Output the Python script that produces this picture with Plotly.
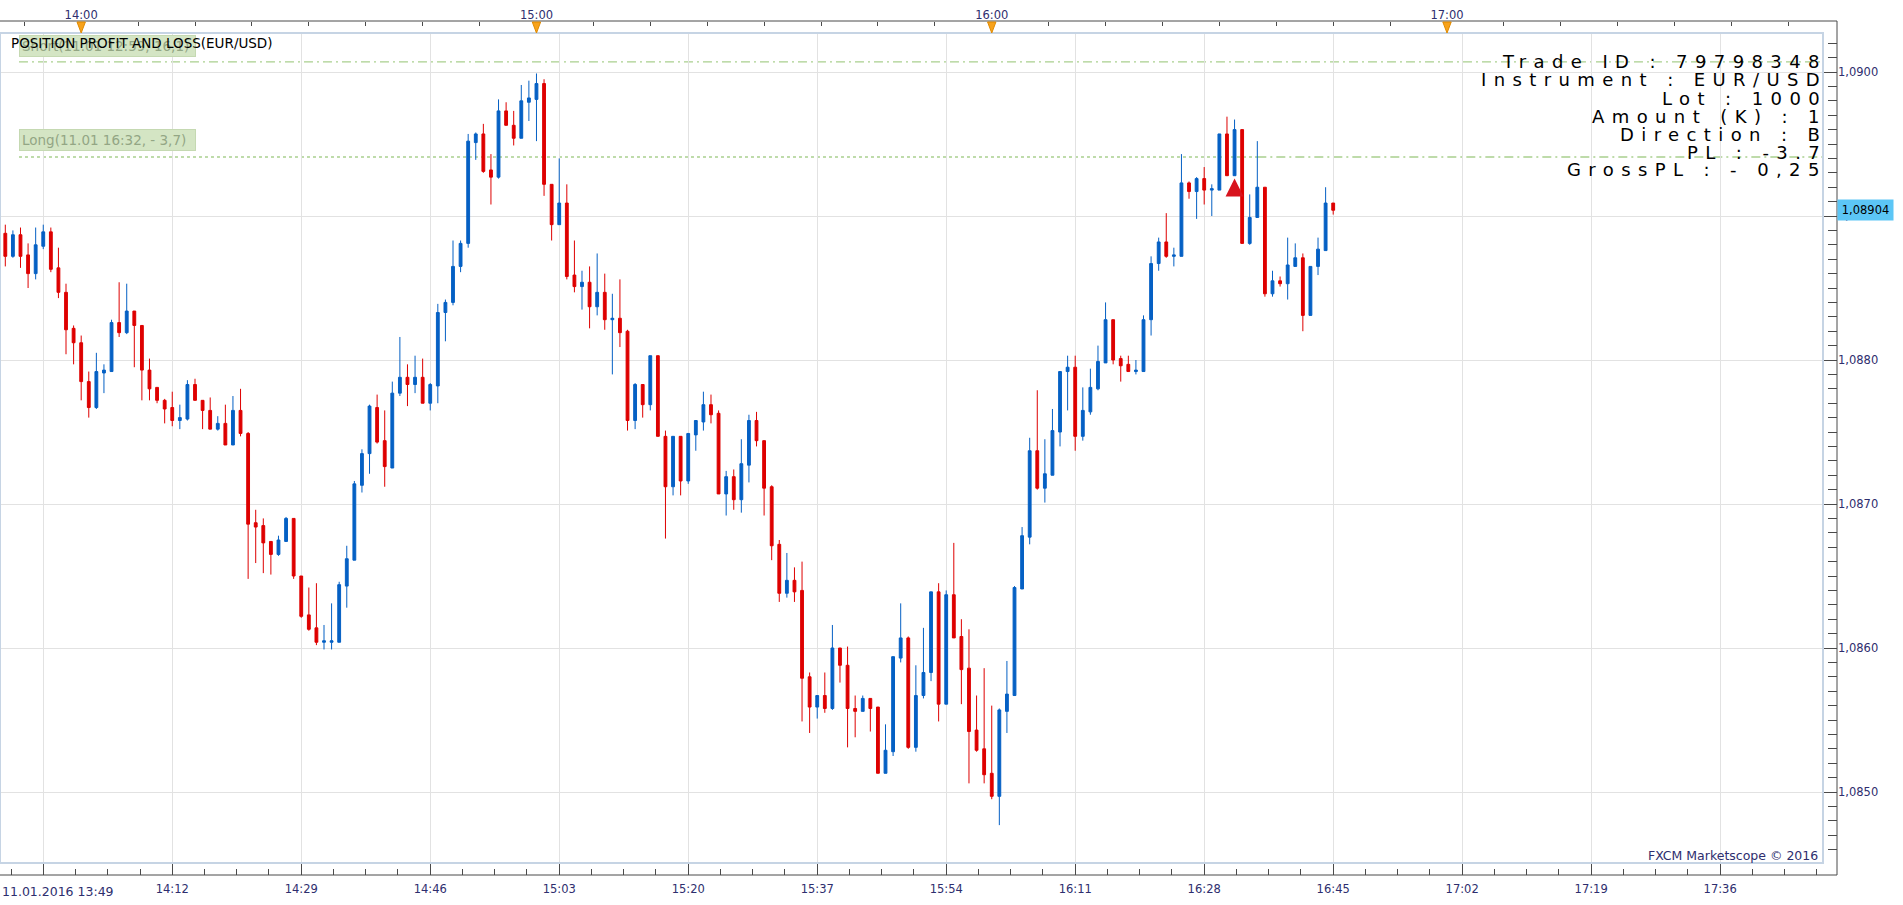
import plotly.graph_objects as go

# ---------------- data (1-minute EUR/USD bars, x = minutes after 14:00) ----------------
bar_minute = list(range(-11, 166))

opens = [
    1.08906, 1.08888, 1.08872, 1.08887, 1.08873, 1.08860, 1.08879, 1.08889, 1.08864, 1.08847,
    1.08822, 1.08812, 1.08785, 1.08767, 1.08791, 1.08792, 1.08826, 1.08819, 1.08834, 1.08824,
    1.08793, 1.08781, 1.08772, 1.08767, 1.08758, 1.08759, 1.08783, 1.08772, 1.08765, 1.08752,
    1.08756, 1.08741, 1.08765, 1.08749, 1.08687, 1.08685, 1.08674, 1.08665, 1.08674, 1.08690,
    1.08650, 1.08623, 1.08614, 1.08604, 1.08604, 1.08604, 1.08643, 1.08661, 1.08713, 1.08735,
    1.08767, 1.08744, 1.08725, 1.08777, 1.08788, 1.08783, 1.08788, 1.08770, 1.08782, 1.08833,
    1.08840, 1.08865, 1.08881, 1.08951, 1.08957, 1.08932, 1.08927, 1.08973, 1.08963, 1.08954,
    1.08979, 1.08981, 1.08992, 1.08922, 1.08894, 1.08909, 1.08859, 1.08851, 1.08854, 1.08837,
    1.08847, 1.08828, 1.08829, 1.08820, 1.08758, 1.08783, 1.08769, 1.08803, 1.08747, 1.08712,
    1.08747, 1.08716, 1.08748, 1.08757, 1.08769, 1.08763, 1.08707, 1.08719, 1.08703, 1.08727,
    1.08758, 1.08744, 1.08712, 1.08672, 1.08638, 1.08647, 1.08640, 1.08580, 1.08559, 1.08567,
    1.08558, 1.08600, 1.08588, 1.08558, 1.08556, 1.08565, 1.08559, 1.08513, 1.08528, 1.08593,
    1.08607, 1.08531, 1.08567, 1.08583, 1.08639, 1.08561, 1.08637, 1.08608, 1.08586, 1.08543,
    1.08530, 1.08513, 1.08497, 1.08556, 1.08567, 1.08641, 1.08677, 1.08737, 1.08711, 1.08720,
    1.08750, 1.08792, 1.08795, 1.08747, 1.08764, 1.08780, 1.08798, 1.08828, 1.08801, 1.08797,
    1.08792, 1.08792, 1.08828, 1.08867, 1.08882, 1.08872, 1.08872, 1.08923, 1.08917, 1.08926,
    1.08918, 1.08918, 1.08957, 1.08928, 1.08960, 1.08881, 1.08899, 1.08920, 1.08846, 1.08855,
    1.08853, 1.08865, 1.08871, 1.08831, 1.08865, 1.08876, 1.08909,
]
highs = [
    1.08911, 1.08894, 1.08890, 1.08892, 1.08881, 1.08892, 1.08894, 1.08892, 1.08878, 1.08853,
    1.08824, 1.08817, 1.08792, 1.08805, 1.08797, 1.08828, 1.08854, 1.08853, 1.08834, 1.08824,
    1.08801, 1.08781, 1.08773, 1.08778, 1.08769, 1.08786, 1.08787, 1.08772, 1.08774, 1.08761,
    1.08769, 1.08775, 1.08780, 1.08750, 1.08696, 1.08690, 1.08674, 1.08678, 1.08691, 1.08690,
    1.08650, 1.08642, 1.08645, 1.08616, 1.08631, 1.08646, 1.08671, 1.08716, 1.08738, 1.08769,
    1.08776, 1.08765, 1.08785, 1.08816, 1.08797, 1.08803, 1.08801, 1.08784, 1.08839, 1.08842,
    1.08883, 1.08883, 1.08957, 1.08958, 1.08964, 1.08943, 1.08981, 1.08979, 1.08973, 1.08991,
    1.08994, 1.08999, 1.08995, 1.08922, 1.08940, 1.08922, 1.08883, 1.08862, 1.08865, 1.08874,
    1.08860, 1.08846, 1.08856, 1.08821, 1.08784, 1.08783, 1.08803, 1.08803, 1.08751, 1.08747,
    1.08747, 1.08749, 1.08758, 1.08778, 1.08776, 1.08765, 1.08723, 1.08724, 1.08745, 1.08762,
    1.08764, 1.08744, 1.08713, 1.08675, 1.08666, 1.08656, 1.08660, 1.08583, 1.08567, 1.08583,
    1.08616, 1.08600, 1.08601, 1.08567, 1.08567, 1.08565, 1.08559, 1.08547, 1.08594, 1.08631,
    1.08608, 1.08588, 1.08614, 1.08639, 1.08645, 1.08640, 1.08673, 1.08620, 1.08613, 1.08567,
    1.08586, 1.08560, 1.08558, 1.08591, 1.08643, 1.08684, 1.08746, 1.08779, 1.08745, 1.08766,
    1.08792, 1.08803, 1.08803, 1.08781, 1.08794, 1.08810, 1.08840, 1.08828, 1.08803, 1.08803,
    1.08800, 1.08831, 1.08872, 1.08885, 1.08902, 1.08878, 1.08943, 1.08924, 1.08927, 1.08934,
    1.08922, 1.08957, 1.08969, 1.08967, 1.08960, 1.08915, 1.08952, 1.08920, 1.08862, 1.08858,
    1.08885, 1.08881, 1.08874, 1.08865, 1.08885, 1.08920, 1.08909,
]
lows = [
    1.08883, 1.08865, 1.08871, 1.08864, 1.08850, 1.08856, 1.08877, 1.08861, 1.08843, 1.08804,
    1.08797, 1.08772, 1.08760, 1.08766, 1.08777, 1.08792, 1.08816, 1.08818, 1.08795, 1.08772,
    1.08772, 1.08770, 1.08756, 1.08754, 1.08752, 1.08758, 1.08772, 1.08752, 1.08752, 1.08751,
    1.08741, 1.08741, 1.08747, 1.08648, 1.08659, 1.08652, 1.08651, 1.08664, 1.08674, 1.08648,
    1.08621, 1.08612, 1.08602, 1.08599, 1.08599, 1.08604, 1.08628, 1.08661, 1.08708, 1.08721,
    1.08742, 1.08712, 1.08725, 1.08775, 1.08768, 1.08777, 1.08770, 1.08765, 1.08770, 1.08813,
    1.08838, 1.08861, 1.08878, 1.08939, 1.08930, 1.08908, 1.08926, 1.08963, 1.08949, 1.08954,
    1.08966, 1.08952, 1.08914, 1.08883, 1.08894, 1.08856, 1.08847, 1.08835, 1.08822, 1.08831,
    1.08821, 1.08790, 1.08809, 1.08751, 1.08752, 1.08760, 1.08765, 1.08747, 1.08676, 1.08706,
    1.08706, 1.08714, 1.08737, 1.08751, 1.08756, 1.08707, 1.08692, 1.08696, 1.08694, 1.08715,
    1.08740, 1.08692, 1.08661, 1.08632, 1.08635, 1.08632, 1.08549, 1.08541, 1.08551, 1.08555,
    1.08557, 1.08576, 1.08531, 1.08538, 1.08556, 1.08542, 1.08513, 1.08513, 1.08525, 1.08590,
    1.08530, 1.08528, 1.08565, 1.08577, 1.08549, 1.08561, 1.08607, 1.08561, 1.08506, 1.08528,
    1.08506, 1.08495, 1.08477, 1.08541, 1.08567, 1.08641, 1.08672, 1.08710, 1.08701, 1.08720,
    1.08740, 1.08765, 1.08737, 1.08744, 1.08762, 1.08779, 1.08798, 1.08797, 1.08785, 1.08792,
    1.08790, 1.08792, 1.08817, 1.08862, 1.08871, 1.08865, 1.08872, 1.08912, 1.08898, 1.08908,
    1.08900, 1.08918, 1.08928, 1.08928, 1.08881, 1.08880, 1.08899, 1.08844, 1.08844, 1.08851,
    1.08842, 1.08865, 1.08820, 1.08831, 1.08859, 1.08876, 1.08901,
]
closes = [
    1.08888, 1.08872, 1.08887, 1.08872, 1.08860, 1.08880, 1.08889, 1.08863, 1.08847, 1.08821,
    1.08812, 1.08785, 1.08767, 1.08792, 1.08793, 1.08826, 1.08819, 1.08834, 1.08824, 1.08793,
    1.08780, 1.08772, 1.08766, 1.08758, 1.08760, 1.08783, 1.08772, 1.08765, 1.08752, 1.08756,
    1.08741, 1.08765, 1.08749, 1.08686, 1.08684, 1.08673, 1.08665, 1.08675, 1.08690, 1.08650,
    1.08622, 1.08613, 1.08604, 1.08605, 1.08605, 1.08644, 1.08662, 1.08714, 1.08735, 1.08768,
    1.08743, 1.08726, 1.08777, 1.08788, 1.08783, 1.08788, 1.08770, 1.08783, 1.08833, 1.08840,
    1.08865, 1.08881, 1.08952, 1.08957, 1.08931, 1.08927, 1.08973, 1.08963, 1.08954, 1.08980,
    1.08982, 1.08992, 1.08922, 1.08894, 1.08909, 1.08858, 1.08851, 1.08854, 1.08837, 1.08847,
    1.08828, 1.08829, 1.08819, 1.08758, 1.08783, 1.08769, 1.08803, 1.08747, 1.08712, 1.08747,
    1.08716, 1.08749, 1.08758, 1.08769, 1.08762, 1.08707, 1.08719, 1.08703, 1.08728, 1.08758,
    1.08744, 1.08711, 1.08671, 1.08638, 1.08647, 1.08639, 1.08579, 1.08559, 1.08567, 1.08558,
    1.08600, 1.08588, 1.08558, 1.08556, 1.08565, 1.08558, 1.08513, 1.08529, 1.08594, 1.08607,
    1.08531, 1.08567, 1.08583, 1.08639, 1.08561, 1.08637, 1.08607, 1.08585, 1.08542, 1.08529,
    1.08512, 1.08497, 1.08557, 1.08568, 1.08642, 1.08678, 1.08737, 1.08711, 1.08721, 1.08751,
    1.08792, 1.08795, 1.08747, 1.08765, 1.08781, 1.08799, 1.08828, 1.08800, 1.08796, 1.08792,
    1.08793, 1.08828, 1.08867, 1.08882, 1.08872, 1.08873, 1.08923, 1.08917, 1.08926, 1.08918,
    1.08919, 1.08957, 1.08928, 1.08960, 1.08881, 1.08899, 1.08920, 1.08846, 1.08855, 1.08853,
    1.08866, 1.08871, 1.08831, 1.08865, 1.08877, 1.08909, 1.08904,
]
assert len(opens) == len(highs) == len(lows) == len(closes) == len(bar_minute)

bottom_tick_minutes = [-5, 12, 29, 46, 63, 80, 97, 114, 131, 148, 165, 182, 199, 216]
bottom_tick_labels = ["11.01.2016 13:49", "14:12", "14:29", "14:46", "15:03", "15:20", "15:37",
                      "15:54", "16:11", "16:28", "16:45", "17:02", "17:19", "17:36"]
top_tick_minutes = [0, 60, 120, 180]
top_tick_labels = ["14:00", "15:00", "16:00", "17:00"]

short_line_price = 1.09007
short_label = "Short(11.01 12:59, 16,1)"
long_line_price = 1.08941
long_label = "Long(11.01 16:32, - 3,7)"
long_line_switch_minute = 155
entry_minute = 152
entry_marker_price = 1.08926

info_lines = ["Trade ID : 79798348", "Instrument : EUR/USD", "Lot : 1000", "Amount (K) : 1",
              "Direction : B", "PL : -3.7", "GrossPL : - 0,25"]
panel_title = "POSITION PROFIT AND LOSS(EUR/USD)"
copyright_text = "FXCM Marketscope © 2016"

# ---------------- styling / layout geometry ----------------
BLUE = "#0560c4"
RED = "#de0000"
NAVY = "#2e2e6e"
GRID = "#e2e2e2"
GREEN_LINE = "#a9d08e"
FONT = "DejaVu Sans"

W, H = 1903, 905
PAPER_LEFT, PAPER_TOP, PAPER_RIGHT, PAPER_BOTTOM = 0, 21, 1837, 875
PLOT_RIGHT, PLOT_TOP, PLOT_BOTTOM = 1823, 33, 863
PW = PAPER_RIGHT - PAPER_LEFT
PH = PAPER_BOTTOM - PAPER_TOP


def px_x(px):
    return (px - PAPER_LEFT) / PW


def px_y(py):
    return (PAPER_BOTTOM - py) / PH


x_range = [-10.70, 229.55]
y_range = [1.084507, 1.090271]
line_start_minute = -8.2

fig = go.Figure()

fig.add_trace(go.Candlestick(
    x=bar_minute, open=opens, high=highs, low=lows, close=closes,
    increasing=dict(line=dict(color=BLUE, width=1), fillcolor=BLUE),
    decreasing=dict(line=dict(color=RED, width=1), fillcolor=RED),
    whiskerwidth=0, showlegend=False, hoverinfo="skip",
    xaxis="x", yaxis="y",
))
# dummy trace so the top time axis is rendered
fig.add_trace(go.Scatter(x=top_tick_minutes, y=[None] * len(top_tick_minutes),
                         xaxis="x2", yaxis="y", showlegend=False, hoverinfo="skip",
                         mode="markers"))

shapes = []
# trade level lines
shapes.append(dict(type="line", xref="x", yref="y", x0=line_start_minute, x1=x_range[1],
                   y0=short_line_price, y1=short_line_price,
                   line=dict(color=GREEN_LINE, width=1.3, dash="9px,4px,2px,4px"), layer="below"))
shapes.append(dict(type="line", xref="x", yref="y", x0=line_start_minute, x1=long_line_switch_minute,
                   y0=long_line_price, y1=long_line_price,
                   line=dict(color=GREEN_LINE, width=1.3, dash="3px,3px"), layer="below"))
shapes.append(dict(type="line", xref="x", yref="y", x0=long_line_switch_minute, x1=x_range[1],
                   y0=long_line_price, y1=long_line_price,
                   line=dict(color=GREEN_LINE, width=1.3, dash="9px,4px,2px,4px"), layer="below"))
# inner plot border
shapes.append(dict(type="rect", xref="paper", yref="paper", x0=px_x(0), x1=px_x(PLOT_RIGHT),
                   y0=px_y(PLOT_BOTTOM), y1=px_y(PLOT_TOP),
                   line=dict(color="#c6d4e4", width=2), layer="above"))
# outer frame (axis lines)
for x0, y0, x1, y1 in [(0, 1, 1, 1), (1, 0, 1, 1), (0, 0, 1, 0)]:
    shapes.append(dict(type="line", xref="paper", yref="paper", x0=x0, y0=y0, x1=x1, y1=y1,
                       line=dict(color="#4a4a4a", width=1), layer="above"))
# orange hour markers on the top axis
half_w = 0.55
for m in top_tick_minutes:
    shapes.append(dict(type="path", xref="x", yref="paper",
                       path=f"M {m - half_w},{px_y(22)} L {m + half_w},{px_y(22)} L {m},{px_y(33)} Z",
                       fillcolor="#f7a21b", line=dict(color="#e08a00", width=1), layer="above"))

annotations = []
label_box = dict(xref="paper", yref="paper", xanchor="left", yanchor="middle", showarrow=False,
                 bgcolor="#d4e5c4", bordercolor="#c5d9b2", borderwidth=1, borderpad=2,
                 width=171, height=16, align="left",
                 font=dict(family=FONT, size=13.5, color="#93a684"))
annotations.append(dict(label_box, x=px_x(19), y=px_y(46), text=short_label))
annotations.append(dict(label_box, x=px_x(19), y=px_y(140), text=long_label))
annotations.append(dict(xref="paper", yref="paper", x=px_x(9), y=px_y(43), xanchor="left",
                        yanchor="middle", showarrow=False, text=panel_title,
                        font=dict(family=FONT, size=13.5, color="#000000")))

info_y = [61.7, 80.0, 98.3, 116.0, 134.3, 152.7, 170.0]
for line, yy in zip(info_lines, info_y):
    annotations.append(dict(xref="paper", yref="paper", x=px_x(1829), y=px_y(yy),
                            xanchor="right", yanchor="middle", showarrow=False,
                            text=f'<span style="letter-spacing:7.4px">{line}</span>',
                            font=dict(family=FONT, size=18, color="#000000")))

annotations.append(dict(xref="paper", yref="paper", x=px_x(1820), y=px_y(855), xanchor="right",
                        yanchor="middle", showarrow=False, text=copyright_text,
                        font=dict(family=FONT, size=12.5, color=NAVY)))
annotations.append(dict(xref="paper", yref="paper", x=px_x(0), y=px_y(892), xanchor="left",
                        yanchor="middle", showarrow=False, text=bottom_tick_labels[0],
                        font=dict(family=FONT, size=12.5, color=NAVY)))
# current price tag
last_price = closes[-1]
annotations.append(dict(xref="paper", yref="y", x=1.0, y=last_price, xanchor="left",
                        yanchor="middle", showarrow=False,
                        text=f"{last_price:.5f}".replace(".", ","),
                        bgcolor="#5cc6f6", borderpad=3, width=49, height=14,
                        font=dict(family=FONT, size=11.5, color="#000000")))
# entry arrow
annotations.append(dict(xref="x", yref="y", x=entry_minute, y=entry_marker_price, text="",
                        showarrow=True, arrowhead=2, arrowsize=0.9, arrowwidth=4,
                        arrowcolor="#d8141e", ax=0, ay=15))

tickfont = dict(family=FONT, size=11.5, color=NAVY)

fig.update_layout(
    width=W, height=H,
    margin=dict(l=PAPER_LEFT, r=W - PAPER_RIGHT, t=PAPER_TOP, b=H - PAPER_BOTTOM, pad=0,
                autoexpand=False),
    paper_bgcolor="white", plot_bgcolor="white",
    separators=", ",
    showlegend=False,
    boxgap=0.47,
    shapes=shapes,
    annotations=annotations,
    font=dict(family=FONT, size=11.5, color=NAVY),
    xaxis=dict(
        domain=[0, px_x(PLOT_RIGHT)], range=x_range, anchor="free", position=0, side="bottom",
        tickmode="array", tickvals=bottom_tick_minutes, ticktext=[""] + bottom_tick_labels[1:],
        ticks="inside", ticklen=12, tickcolor="#4a4a4a", tickwidth=1,
        minor=dict(tickmode="linear", tick0=bottom_tick_minutes[0], dtick=4.25, ticks="inside",
                   ticklen=6, tickcolor="#4a4a4a", showgrid=False),
        showgrid=True, gridcolor=GRID, gridwidth=1, zeroline=False, showline=False,
        tickfont=tickfont, ticklabelstandoff=5, rangeslider=dict(visible=False), fixedrange=True,
    ),
    xaxis2=dict(
        overlaying="x", range=x_range, anchor="free", position=1, side="top",
        tickmode="array", tickvals=top_tick_minutes, ticktext=top_tick_labels,
        ticks="inside", ticklen=4, tickcolor="#4a4a4a",
        minor=dict(tickmode="linear", tick0=0, dtick=7.5, ticks="inside", ticklen=4,
                   tickcolor="#4a4a4a", showgrid=False),
        showgrid=False, zeroline=False, showline=False, tickfont=tickfont, fixedrange=True,
    ),
    yaxis=dict(
        domain=[px_y(PLOT_BOTTOM), px_y(PLOT_TOP)], range=y_range, side="right", anchor="free",
        position=1, tickmode="linear", tick0=1.085, dtick=0.001, tickformat=".4f",
        ticks="inside", ticklen=14, tickcolor="#4a4a4a",
        minor=dict(tickmode="linear", tick0=1.085, dtick=0.0001, ticks="inside", ticklen=9,
                   tickcolor="#4a4a4a", showgrid=False),
        showgrid=True, gridcolor=GRID, gridwidth=1, zeroline=False, showline=False,
        tickfont=tickfont, fixedrange=True,
    ),
)

fig.write_html("out.html")
